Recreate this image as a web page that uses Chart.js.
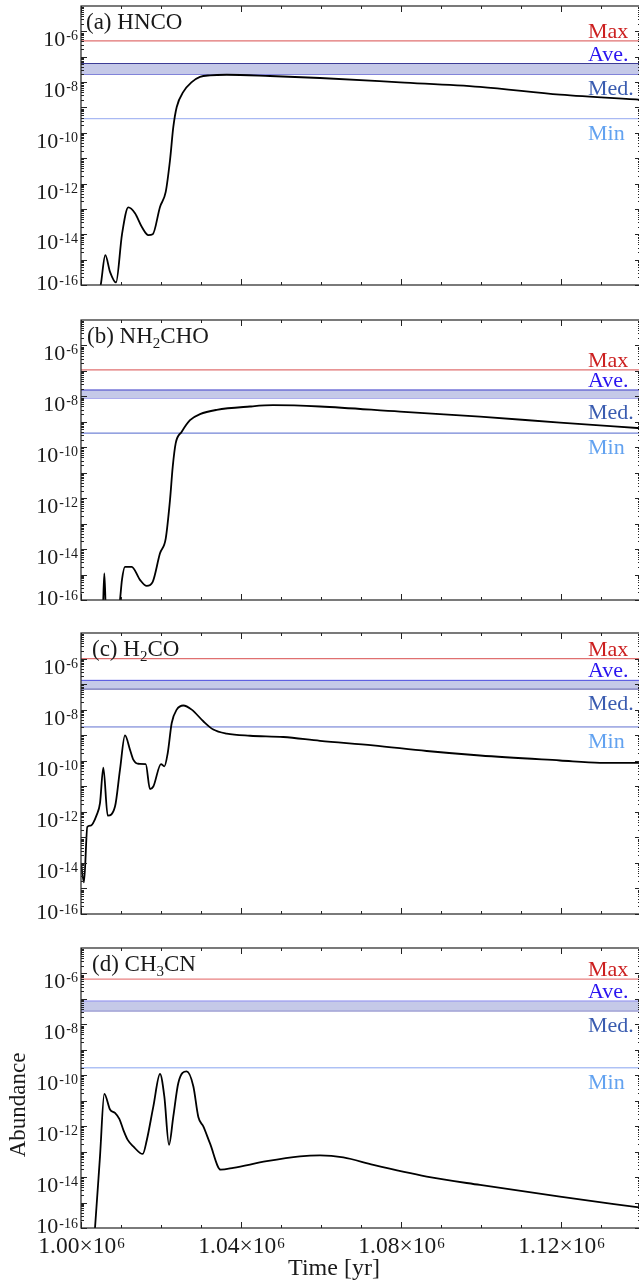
<!DOCTYPE html>
<html>
<head>
<meta charset="utf-8">
<script src="https://cdn.jsdelivr.net/npm/chart.js@4.4.1/dist/chart.umd.min.js"></script>
<style>
  html, body { margin: 0; padding: 0; background: #fff; overflow: hidden; }
  #wrap { position: relative; width: 639px; height: 1284px; overflow: hidden; }
  canvas { position: absolute; left: 0; }
</style>
</head>
<body>
<div id="wrap">
  <canvas id="pa" width="642" height="315" style="top:0px"></canvas>
  <canvas id="pb" width="642" height="316" style="top:314px"></canvas>
  <canvas id="pc" width="642" height="317" style="top:627px"></canvas>
  <canvas id="pd" width="642" height="342" style="top:942px"></canvas>
</div>
<script>
// time axis [yr]
const xMin = 1.00e6, xMax = 1.14e6;
const xTickLabels = [1.00e6, 1.04e6, 1.08e6, 1.12e6];
const yTickExps = [-16, -14, -12, -10, -8, -6];

// (a) HNCO
const hncoTime  = [1.0035e6, 1.00493e6, 1.00608e6, 1.00725e6, 1.00875e6, 1.01025e6, 1.01183e6, 1.0135e6, 1.01525e6,
                   1.01683e6, 1.01793e6, 1.01975e6, 1.02118e6, 1.02225e6, 1.02308e6, 1.02393e6, 1.02558e6, 1.02768e6,
                   1.02975e6, 1.03225e6, 1.03643e6, 1.04725e6, 1.05975e6, 1.07975e6, 1.09975e6, 1.11975e6, 1.14e6];
const hncoAbund = [1e-17, 1e-16, 1.5e-15, 3.3e-16, 1.26e-16, 1e-14, 1.15e-13, 6.8e-14, 1.9e-14,
                   9.3e-15, 1.0e-14, 1.2e-13, 4.7e-13, 8.3e-12, 1.7e-10, 1.05e-9, 4.1e-9, 1.0e-8,
                   1.6e-8, 1.85e-8, 1.95e-8, 1.74e-8, 1.45e-8, 9.8e-9, 6.5e-9, 3.2e-9, 2.0e-9];
const hncoLevels = [4.2e-7, 5.4e-8, 2.0e-8, 3.6e-10];   // Max, Ave., Med., Min

// (b) NH2CHO
const nh2choTime  = [1.0045e6, 1.00543e6, 1.00583e6, 1.00625e6, 1.00725e6, 1.009e6, 1.00975e6, 1.01025e6, 1.011e6,
                     1.01268e6, 1.01475e6, 1.01643e6, 1.01793e6, 1.01975e6, 1.02118e6, 1.02225e6, 1.02293e6, 1.02368e6,
                     1.02518e6, 1.02725e6, 1.02975e6, 1.03393e6, 1.04225e6, 1.048e6, 1.05975e6, 1.07975e6, 1.09975e6,
                     1.11975e6, 1.14e6];
const nh2choAbund = [1e-17, 3e-17, 1.1e-15, 3e-17, 1e-17, 1e-17, 1e-16, 6.3e-16, 2.0e-15,
                     2.0e-15, 6.2e-16, 3.6e-16, 5.2e-16, 6.8e-15, 2.6e-14, 8.5e-13, 1.7e-11, 1.45e-10,
                     4.1e-10, 1.17e-9, 2.0e-9, 2.95e-9, 4.0e-9, 4.5e-9, 4.0e-9, 2.5e-9, 1.6e-9,
                     9.3e-10, 5.6e-10];
const nh2choLevels = [1.1e-7, 1.78e-8, 8.7e-9, 3.6e-10];

// (c) H2CO
const h2coTime  = [1.0e6, 1.00075e6, 1.00158e6, 1.00243e6, 1.00393e6, 1.00475e6, 1.00558e6, 1.00668e6, 1.0085e6,
                   1.00975e6, 1.011e6, 1.01225e6, 1.01308e6, 1.01433e6, 1.01618e6, 1.01725e6, 1.01808e6, 1.02e6,
                   1.02083e6, 1.02168e6, 1.02268e6, 1.02393e6, 1.02558e6, 1.02768e6, 1.03058e6, 1.03308e6, 1.03643e6,
                   1.04225e6, 1.05058e6, 1.05975e6, 1.073e6, 1.08643e6, 1.09975e6, 1.11975e6, 1.12975e6, 1.14e6];
const h2coAbund = [1e-14, 1.74e-15, 2.6e-13, 2.9e-13, 7.6e-13, 2.2e-12, 5.4e-11, 7.1e-13, 1.6e-12,
                   4.5e-11, 9.8e-10, 2.7e-10, 1.1e-10, 7.6e-11, 7.4e-11, 7.8e-12, 9.8e-12, 7.4e-11,
                   6.0e-11, 2.0e-10, 3.0e-9, 1.0e-8, 1.45e-8, 1.0e-8, 3.5e-9, 1.66e-9, 1.15e-9,
                   9.5e-10, 8.5e-10, 6.0e-10, 4.0e-10, 2.4e-10, 1.6e-10, 1.02e-10, 8.3e-11, 8.3e-11];
const h2coLevels = [1.0e-6, 1.4e-7, 6.6e-8, 2.1e-9];

// (d) CH3CN
const ch3cnTime  = [1.003e6, 1.0035e6, 1.00475e6, 1.00583e6, 1.00725e6, 1.0085e6, 1.00958e6, 1.01058e6, 1.01168e6,
                    1.01308e6, 1.01543e6, 1.01643e6, 1.01808e6, 1.01975e6, 1.02083e6, 1.022e6, 1.02308e6, 1.02433e6,
                    1.02643e6, 1.02808e6, 1.02933e6, 1.03058e6, 1.03225e6, 1.03493e6, 1.03808e6, 1.04643e6, 1.05475e6,
                    1.05975e6, 1.06558e6, 1.07308e6, 1.08643e6, 1.09975e6, 1.11975e6, 1.14e6];
const ch3cnAbund = [1e-17, 1e-16, 6.5e-14, 1.86e-11, 4.5e-12, 3.3e-12, 1.95e-12, 7.2e-13, 2.9e-13,
                    1.6e-13, 8.1e-14, 2.75e-13, 5.9e-12, 1.12e-10, 1.48e-11, 1.86e-13, 2.45e-12, 5.0e-11,
                    1.41e-10, 3.7e-11, 2.3e-12, 9.8e-13, 2.1e-13, 1.95e-14, 2.3e-14, 4.2e-14, 6.5e-14,
                    7.1e-14, 5.9e-14, 3.0e-14, 1.05e-14, 4.9e-15, 1.7e-15, 6.3e-16];
const ch3cnLevels = [6.0e-7, 8.3e-8, 3.4e-8, 1.96e-10];

const SERIF = "'Liberation Serif', 'DejaVu Serif', serif";
const levelNames = ['Max', 'Ave.', 'Med.', 'Min'];
const levelTextColors = ['#cc2020', '#2a14f0', '#3a5cb0', '#62a2f0'];

function drawRich(ctx, parts, x, base) {
  let cx = x;
  ctx.textAlign = 'left';
  ctx.textBaseline = 'alphabetic';
  parts.forEach(p => {
    const small = p.s !== 'n';
    ctx.font = (small ? '15px ' : '23px ') + SERIF;
    const dy = p.s === 'sub' ? 5 : (p.s === 'sup' ? -8 : 0);
    ctx.fillText(p.t, cx, base + dy);
    cx += ctx.measureText(p.t).width;
  });
}

function makeDecor(cfg) {
  return {
    id: 'decor',
    afterDraw(chart) {
      const ctx = chart.ctx, a = chart.chartArea;
      const x = chart.scales.x, y = chart.scales.y;
      ctx.save();
      ctx.strokeStyle = '#222';
      ctx.lineWidth = 1.2;
      ctx.strokeRect(a.left, a.top, a.right - a.left, a.bottom - a.top);

      // inward ticks on all four sides
      ctx.lineWidth = 1;
      ctx.beginPath();
      for (let k = 0; k <= 14; k++) {
        const px = Math.round(x.getPixelForValue(xMin + k * 1e4)) + 0.5;
        const len = k % 4 === 0 ? 6 : 3;
        ctx.moveTo(px, a.bottom); ctx.lineTo(px, a.bottom - len);
        ctx.moveTo(px, a.top); ctx.lineTo(px, a.top + len);
      }
      for (let e = -16; e < -5; e++) {
        for (let m = 1; m <= 9; m++) {
          const py = Math.round(y.getPixelForValue(m * Math.pow(10, e))) + 0.5;
          const len = m === 1 ? 6 : 3;
          ctx.moveTo(a.left, py); ctx.lineTo(a.left + len, py);
          ctx.moveTo(a.right, py); ctx.lineTo(a.right - len, py);
        }
      }
      ctx.stroke();

      // y tick labels 10^n
      ctx.fillStyle = '#1a1a1a';
      yTickExps.forEach(e => {
        const py = y.getPixelForValue(Math.pow(10, e));
        const sup = '-' + Math.abs(e);
        ctx.font = '14px ' + SERIF;
        const ws = ctx.measureText(sup).width;
        ctx.textAlign = 'left';
        ctx.textBaseline = 'alphabetic';
        const bottom = e === -16;
        ctx.fillText(sup, 78 - ws, py + (bottom ? 0 : 9));
        ctx.font = '22px ' + SERIF;
        ctx.textAlign = 'right';
        ctx.fillText('10', 77 - ws, py + (bottom ? 5 : 15));
      });

      // panel title
      ctx.fillStyle = '#1a1a1a';
      drawRich(ctx, cfg.title, a.left + cfg.titleDx, a.top + 23);

      // level labels
      ctx.font = '22px ' + SERIF;
      ctx.textAlign = 'left';
      ctx.textBaseline = 'alphabetic';
      cfg.levels.forEach((v, i) => {
        const py = y.getPixelForValue(v);
        ctx.fillStyle = levelTextColors[i];
        ctx.fillText(levelNames[i], 588, i < 2 ? py - 3 : py + 21);
      });

      if (cfg.xAxis) {
        ctx.fillStyle = '#1a1a1a';
        xTickLabels.forEach(t => {
          const px = x.getPixelForValue(t);
          const main = (t / 1e6).toFixed(2) + '\u00d710';
          ctx.font = '23.5px ' + SERIF;
          const wm = ctx.measureText(main).width;
          ctx.font = '15px ' + SERIF;
          const ws = ctx.measureText('6').width;
          const x0 = px - (wm + ws) / 2;
          ctx.textAlign = 'left';
          ctx.font = '23.5px ' + SERIF;
          ctx.fillText(main, x0, a.bottom + 25);
          ctx.font = '15px ' + SERIF;
          ctx.fillText('6', x0 + wm + 1, a.bottom + 20);
        });
        ctx.font = '24px ' + SERIF;
        ctx.textAlign = 'center';
        ctx.fillText('Time [yr]', 334, a.bottom + 47);
        ctx.save();
        ctx.translate(25, a.top + 157);
        ctx.rotate(-Math.PI / 2);
        ctx.font = '23px ' + SERIF;
        ctx.fillText('Abundance', 0, 0);
        ctx.restore();
      }
      ctx.restore();
    }
  };
}

function levelLine(v, color, width) {
  return {
    data: [{ x: xMin, y: v }, { x: xMax, y: v }],
    borderColor: color, borderWidth: width, pointRadius: 0, fill: false, clip: 0
  };
}

function makePanel(id, times, abund, levels, style, cfg, padBottom) {
  const curve = {
    data: times.map((t, i) => ({ x: t, y: abund[i] })),
    borderColor: '#000', borderWidth: 1.8, pointRadius: 0,
    cubicInterpolationMode: 'monotone', fill: false, clip: 0
  };
  const top = levelLine(levels[1], style.top, style.topW || 1);
  top.fill = '+1';
  top.backgroundColor = '#c5c9e8';
  const datasets = [
    curve,
    top,
    levelLine(levels[2], style.bottom, style.bottomW || 1),
    levelLine(levels[0], style.max, 1.2),
    levelLine(levels[3], style.min, 1)
  ];
  cfg.levels = levels;
  new Chart(document.getElementById(id), {
    type: 'line',
    data: { datasets: datasets },
    options: {
      responsive: false,
      animation: false,
      devicePixelRatio: 1,
      layout: { padding: { top: 6, bottom: padBottom, left: 0, right: 1 } },
      plugins: { legend: { display: false }, tooltip: { enabled: false } },
      scales: {
        x: {
          type: 'linear', min: xMin, max: xMax,
          grid: { display: false }, border: { display: false },
          ticks: { display: false },
          afterFit: s => { s.height = 0; }
        },
        y: {
          type: 'logarithmic', min: 1e-16, max: 1e-5,
          grid: { display: false }, border: { display: false },
          ticks: { display: false },
          afterFit: s => { s.width = 81; }
        }
      }
    },
    plugins: [makeDecor(cfg)]
  });
}

makePanel('pa', hncoTime, hncoAbund, hncoLevels,
  { top: '#3c3c96', bottom: '#3434c8', max: '#e07070', min: '#94a8f0' },
  { title: [{ t: '(a) HNCO', s: 'n' }], titleDx: 5 }, 30);

makePanel('pb', nh2choTime, nh2choAbund, nh2choLevels,
  { top: '#3a3ac8', bottom: '#2a2ad0', max: '#e07070', min: '#5066cc' },
  { title: [{ t: '(b) NH', s: 'n' }, { t: '2', s: 'sub' }, { t: 'CHO', s: 'n' }], titleDx: 6 }, 30);

makePanel('pc', h2coTime, h2coAbund, h2coLevels,
  { top: '#4a4ae0', bottom: '#26268a', bottomW: 1.8, max: '#e07070', min: '#6070d0' },
  { title: [{ t: '(c) H', s: 'n' }, { t: '2', s: 'sub' }, { t: 'CO', s: 'n' }], titleDx: 11 }, 30);

makePanel('pd', ch3cnTime, ch3cnAbund, ch3cnLevels,
  { top: '#8c8cf0', bottom: '#1a1a96', max: '#e88080', min: '#88a4f0' },
  { title: [{ t: '(d) CH', s: 'n' }, { t: '3', s: 'sub' }, { t: 'CN', s: 'n' }], titleDx: 11, xAxis: true }, 56);
</script>
</body>
</html>
